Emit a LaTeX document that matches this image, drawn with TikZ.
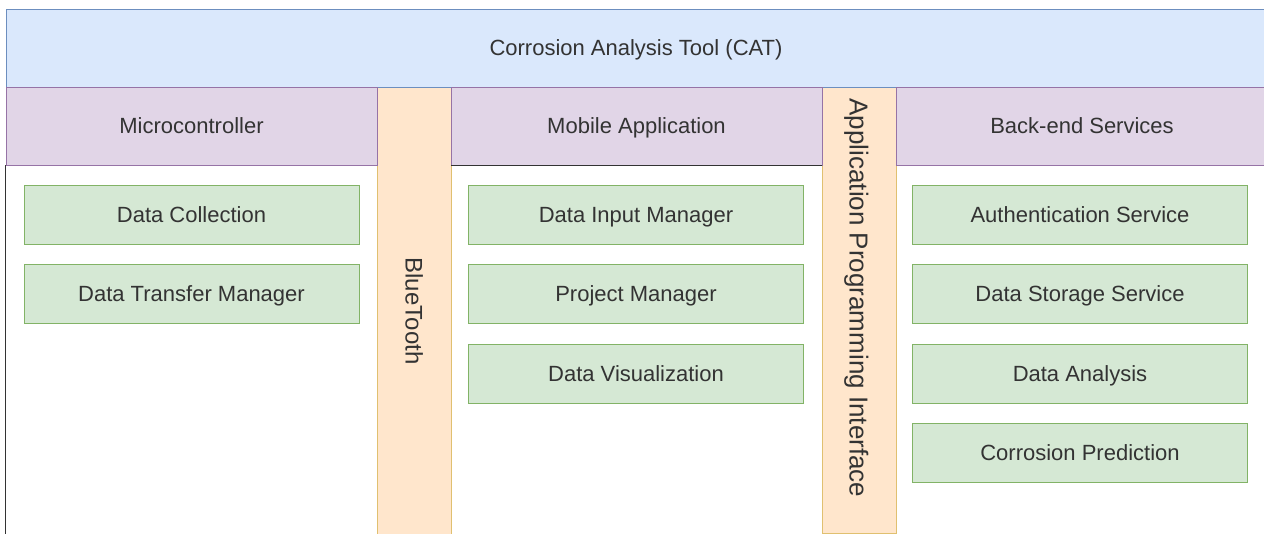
\documentclass[tikz,border=0pt]{standalone}
\usepackage{fontspec}
\setmainfont{Liberation Sans}
\usepackage{xcolor}
\usetikzlibrary{positioning}

\definecolor{catblue}{HTML}{DAE8FC}
\definecolor{catblueline}{HTML}{6C8EBF}
\definecolor{layerfill}{HTML}{E1D5E7}
\definecolor{layerline}{HTML}{9673A6}
\definecolor{linkfill}{HTML}{FFE6CC}
\definecolor{linkline}{HTML}{E0C070}
\definecolor{partfill}{HTML}{D5E8D4}
\definecolor{partline}{HTML}{82B366}
\definecolor{txt}{HTML}{333333}

\begin{document}
\begin{tikzpicture}[
    x=1pt, y=1pt,
    node distance=20pt,
    base/.style={rectangle, inner sep=0pt, text=txt, text height=15.8pt, text depth=0pt, font=\fontsize{22}{26}\selectfont},
    title/.style={base, draw=catblueline, fill=catblue, minimum width=1260pt, minimum height=78pt},
    layer/.style={base, draw=layerline, fill=layerfill, minimum width=371pt, minimum height=78pt},
    link/.style={base, draw=linkline, fill=linkfill, rotate=-90, minimum height=74pt},
    part/.style={base, draw=partline, fill=partfill, minimum width=335pt, minimum height=59pt}
]
\useasboundingbox[fill=white] (0,-533) rectangle (1264,0);

% vertical links first, the header row covers their tops
\node[link, minimum width=448pt, text height=17pt, font=\fontsize{24}{28}\selectfont] (bt) at (414,-311) {BlueTooth};
\node[link, minimum width=470pt, text height=18.6pt, font=\fontsize{26}{30}\selectfont] (api) at (859,-298) {Application Programming Interface};

\node[title] (cat) at (636,-48) {Corrosion Analysis Tool (CAT)};

\node[layer] (mcu) at (191.5,-126) {Microcontroller};
\node[layer] (app) at (636.5,-126) {Mobile Application};
\node[layer, minimum width=372pt] (srv) at (1082,-126) {Back-end Services};

% outline of the left column and under the app header
\draw[black!80, thick] (mcu.south west) -- ++(0,-372);
\draw[black!80, thick] (app.south west) -- (app.south east);

% microcontroller parts
\node[part] (collect) at (191.5,-214.5) {Data Collection};
\node[part, below=of collect] (transfer) {Data Transfer Manager};

% mobile application parts
\node[part] (input) at (636,-214.5) {Data Input Manager};
\node[part, below=of input] (project) {Project Manager};
\node[part, below=of project] (visual) {Data Visualization};

% back-end parts
\node[part] (auth) at (1080,-214.5) {Authentication Service};
\node[part, below=of auth] (store) {Data Storage Service};
\node[part, below=of store] (analysis) {Data Analysis};
\node[part, below=of analysis] (predict) {Corrosion Prediction};
\end{tikzpicture}
\end{document}
